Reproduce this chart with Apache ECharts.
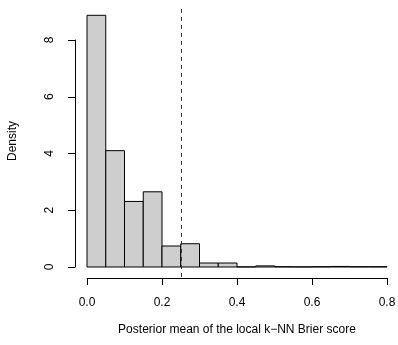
<!DOCTYPE html>
<html>
<head>
<meta charset="utf-8">
<script src="https://cdn.jsdelivr.net/npm/echarts@6/dist/echarts.min.js"></script>
<style>
  html, body { margin: 0; padding: 0; background: #fff; }
  #chart { width: 398px; height: 345px; }
</style>
</head>
<body>
<div id="chart"></div>
<script>
// histogram bins (left edges), width 0.05
const binStarts = [0.00, 0.05, 0.10, 0.15, 0.20, 0.25, 0.30, 0.35, 0.40, 0.45, 0.50, 0.55, 0.60, 0.65, 0.70, 0.75]
const densities = [8.87, 4.10, 2.31, 2.65, 0.74, 0.82, 0.14, 0.14, 0.005, 0.04, 0.01, 0.005, 0.01, 0.02, 0.01, 0.01]
const binWidth = 0.05
const cutoff = 0.25
const xTicks = [0, 0.2, 0.4, 0.6, 0.8]
const yTicks = [0, 2, 4, 6, 8]

const font = 'Liberation Sans, Arial, Helvetica, sans-serif'

const chart = echarts.init(document.getElementById('chart'))

const option = {
  animation: false,
  grid: [
    // plot region
    { left: 75, top: 5, width: 324, height: 272, outerBoundsMode: 'none', containLabel: false },
    // x axis strip
    { left: 87, top: 277, width: 300, height: 1, outerBoundsMode: 'none', containLabel: false },
    // y axis strip
    { left: 75, top: 40, width: 1, height: 227, outerBoundsMode: 'none', containLabel: false },
  ],
  xAxis: [
    {
      gridIndex: 0,
      type: 'value',
      min: -0.032,
      max: 0.832,
      axisLine: { show: false },
      axisTick: { show: false },
      axisLabel: { show: false },
      splitLine: { show: false },
      name: 'Posterior mean of the local k\u2212NN Brier score',
      nameLocation: 'middle',
      nameGap: 47,
      nameTextStyle: { fontFamily: font, fontSize: 12, color: '#000' },
    },
    {
      gridIndex: 1,
      type: 'value',
      min: xTicks[0],
      max: xTicks[xTicks.length - 1],
      interval: 0.2,
      axisLine: { show: true, lineStyle: { color: '#000', width: 1 } },
      axisTick: { show: true, inside: false, length: 7, lineStyle: { color: '#000' } },
      axisLabel: {
        margin: 19,
        fontFamily: font,
        fontSize: 12,
        color: '#000',
        formatter: (v) => v.toFixed(1),
      },
      splitLine: { show: false },
    },
    {
      gridIndex: 2,
      type: 'value',
      show: false,
    },
  ],
  yAxis: [
    {
      gridIndex: 0,
      type: 'value',
      min: -0.3524,
      max: 9.233,
      axisLine: { show: false },
      axisTick: { show: false },
      axisLabel: { show: false },
      splitLine: { show: false },
      name: 'Density',
      nameLocation: 'middle',
      nameGap: 56,
      nameRotate: 90,
      nameTextStyle: { fontFamily: font, fontSize: 12, color: '#000' },
    },
    {
      gridIndex: 1,
      type: 'value',
      show: false,
    },
    {
      gridIndex: 2,
      type: 'value',
      min: yTicks[0],
      max: yTicks[yTicks.length - 1],
      interval: 2,
      axisLine: { show: true, lineStyle: { color: '#000', width: 1 } },
      axisTick: { show: true, inside: false, length: 7, lineStyle: { color: '#000' } },
      axisLabel: {
        margin: 19,
        rotate: 90,
        fontFamily: font,
        fontSize: 12,
        color: '#000',
      },
      splitLine: { show: false },
    },
  ],
  series: [
    {
      type: 'custom',
      xAxisIndex: 0,
      yAxisIndex: 0,
      data: binStarts.map((s, i) => [s, densities[i]]),
      renderItem: (params, api) => {
        const x0 = api.value(0)
        const h = api.value(1)
        const p0 = api.coord([x0, h])
        const p1 = api.coord([x0 + binWidth, 0])
        return {
          type: 'rect',
          shape: { x: p0[0], y: p0[1], width: p1[0] - p0[0], height: p1[1] - p0[1] },
          style: { fill: '#cecece', stroke: '#000', lineWidth: 1 },
        }
      },
      markLine: {
        silent: true,
        symbol: 'none',
        label: { show: false },
        lineStyle: { color: '#333', type: [4, 4], width: 1 },
        data: [{ xAxis: cutoff }],
      },
    },
  ],
}

chart.setOption(option)
</script>
</body>
</html>
